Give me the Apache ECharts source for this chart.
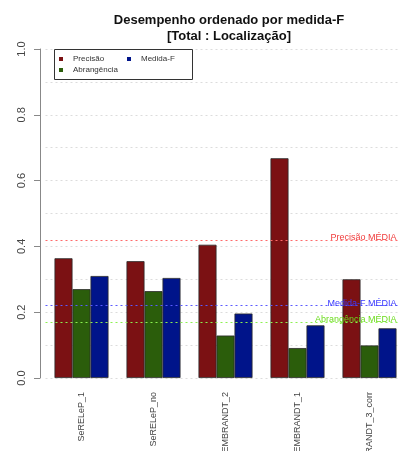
<!DOCTYPE html>
<html>
<head>
<meta charset="utf-8">
<script src="https://cdn.jsdelivr.net/npm/echarts@6/dist/echarts.min.js"></script>
<style>
  html, body { margin: 0; padding: 0; background: #fff; }
  #chart { width: 400px; height: 451px; }
</style>
</head>
<body>
<div id="chart"></div>
<script>
// Systems, ordered by F-measure
const categories = ['SeRELeP_1', 'SeRELeP_no', 'REMBRANDT_2', 'REMBRANDT_1', 'REMBRANDT_3_corr'];

// Scores per system
const precisao    = [0.364, 0.355, 0.405, 0.668, 0.300];
const abrangencia = [0.270, 0.264, 0.129, 0.091, 0.099];
const medidaF     = [0.310, 0.304, 0.196, 0.160, 0.151];

const yTicks = [0, 0.2, 0.4, 0.6, 0.8, 1.0];

const FONT = '"Liberation Sans", Arial, Helvetica, sans-serif';

function meanLine(name, lineColor, textColor) {
  const style = { type: [2, 3], color: lineColor, width: 1, opacity: 1 };
  return {
    silent: true,
    symbol: 'none',
    lineStyle: style,
    label: {
      show: true,
      position: 'insideEndTop',
      distance: [9, -2],
      formatter: name,
      color: textColor,
      fontFamily: FONT,
      fontSize: 9
    },
    data: [{ type: 'average', lineStyle: style }]
  };
}

function barSeries(name, values, color, mean) {
  return {
    name: name,
    type: 'bar',
    data: values,
    barWidth: 18,
    barGap: '0%',
    itemStyle: { color: color, borderColor: '#2a2a2a', borderWidth: 0.8 },
    markLine: mean
  };
}

const chart = echarts.init(document.getElementById('chart'), null, { renderer: 'canvas' });

chart.setOption({
  animation: false,
  backgroundColor: '#ffffff',
  title: {
    text: 'Desempenho ordenado por medida-F\n[Total : Localização]',
    left: 224,
    textAlign: 'center',
    top: 7,
    textStyle: {
      fontFamily: FONT,
      fontWeight: 'bold',
      fontSize: 13,
      lineHeight: 16,
      color: '#111'
    }
  },
  graphic: [{
    type: 'rect',
    left: 54,
    top: 49,
    shape: { width: 138, height: 30 },
    style: { fill: '#fff', stroke: '#333', lineWidth: 1 },
    z: 5
  }],
  legend: [
    {
      orient: 'vertical',
      left: 59,
      top: 55,
      itemWidth: 4,
      itemHeight: 4,
      itemGap: 3,
      icon: 'rect',
      padding: 0,
      z: 10,
      itemStyle: { borderWidth: 0 },
      data: ['Precisão', 'Abrangência'],
      textStyle: { fontFamily: FONT, fontSize: 8, color: '#333', padding: [0, 0, 0, 5] }
    },
    {
      orient: 'vertical',
      left: 127,
      top: 55,
      itemWidth: 4,
      itemHeight: 4,
      icon: 'rect',
      padding: 0,
      z: 10,
      itemStyle: { borderWidth: 0 },
      data: ['Medida-F'],
      textStyle: { fontFamily: FONT, fontSize: 8, color: '#333', padding: [0, 0, 0, 5] }
    }
  ],
  grid: { left: 45.5, top: 49, width: 360, height: 329, containLabel: false, outerBoundsMode: 'none' },
  xAxis: {
    type: 'category',
    data: categories,
    axisLine: { show: false },
    axisTick: { show: false },
    axisLabel: {
      rotate: 90,
      margin: 14,
      fontFamily: FONT,
      fontSize: 9,
      color: '#444'
    }
  },
  yAxis: {
    type: 'value',
    min: 0,
    max: 1,
    interval: 0.2,
    offset: 5.5,
    axisLine: { show: true, lineStyle: { color: '#888', width: 1 } },
    axisTick: { show: true, length: 6, lineStyle: { color: '#888' } },
    axisLabel: {
      rotate: 90,
      margin: 13,
      fontFamily: FONT,
      fontSize: 11,
      color: '#444',
      formatter: v => {
        const t = yTicks.find(k => Math.abs(k - v) < 1e-9);
        return t === undefined ? '' : t.toFixed(1);
      }
    },
    splitLine: { show: true, lineStyle: { type: [2, 3], color: '#dcdcdc' } },
    minorTick: { show: false, splitNumber: 2 },
    minorSplitLine: { show: true, lineStyle: { type: [2, 3], color: '#dcdcdc' } }
  },
  series: [
    barSeries('Precisão', precisao, '#7b1113', meanLine('Precisão MÉDIA', '#ff6a6a', '#f03c3c')),
    barSeries('Abrangência', abrangencia, '#2b5d0b', meanLine('Abrangência MÉDIA', '#8cf050', '#6cdc1e')),
    barSeries('Medida-F', medidaF, '#00148a', meanLine('Medida-F MÉDIA', '#5a5aff', '#3a3aff'))
  ]
});
</script>
</body>
</html>
